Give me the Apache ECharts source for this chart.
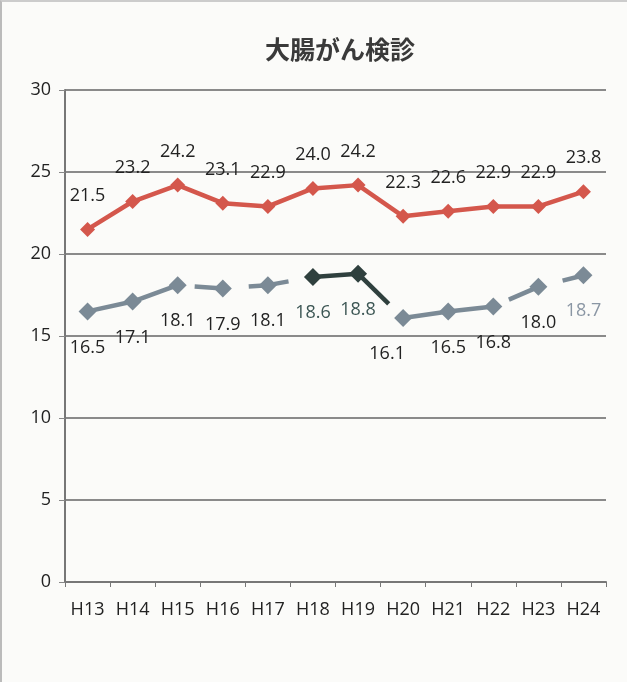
<!DOCTYPE html>
<html><head><meta charset="utf-8">
<script src="https://cdn.jsdelivr.net/npm/echarts@6/dist/echarts.min.js"></script>
<style>html,body{margin:0;padding:0;background:#fbfbf9;}#c{width:627px;height:682px;box-sizing:border-box;border-left:2px solid #bbb;border-top:2px solid #ccc;}</style>
</head><body><div id="c"></div>
<script>
const title = "大腸がん検診";
const categories = ["H13","H14","H15","H16","H17","H18","H19","H20","H21","H22","H23","H24"];
const seriesRed = [21.5,23.2,24.2,23.1,22.9,24.0,24.2,22.3,22.6,22.9,22.9,23.8];
const seriesGrey = [16.5,17.1,18.1,17.9,18.1,18.6,18.8,16.1,16.5,16.8,18.0,18.7];
const yTicks = [0,5,10,15,20,25,30];

const RED = '#d4574c', GREY = '#7b8a96', DARK = '#2f403e';
// indices drawn in dark colour
const darkIdx = [5,6];
// segment styles for the grey line (from index i to i+1)
const segStyles = [
  {c: GREY, t: 'solid'},
  {c: GREY, t: 'solid'},
  {c: GREY, t: [29,17], o: 29},
  {c: GREY, t: [19,26], o: 19},
  {c: GREY, t: [21,100]},
  {c: DARK, t: 'solid'},
  {c: DARK, t: [43,100]},
  {c: GREY, t: 'solid'},
  {c: GREY, t: 'solid'},
  {c: GREY, t: [29,17], o: 29},
  {c: GREY, t: [20,25], o: 20}
];
const labelColors = seriesGrey.map((v,i)=> darkIdx.includes(i) ? '#3c5654' : (i===11 ? '#8a96a4' : '#222'));

const chart = echarts.init(document.getElementById('c'));
const series = [];
segStyles.forEach((s,i)=>{
  series.push({
    type:'line', silent:true, symbol:'none', z:2,
    data: seriesGrey.map((v,j)=> (j===i||j===i+1)? v : null),
    lineStyle:{color:s.c, width:4.5, type:s.t, dashOffset:s.o||0, cap:'butt'},
    label:{show:false}
  });
});
series.push({
  type:'line', z:3, symbol:'diamond', symbolSize:18,
  data: seriesGrey.map((v,i)=>({value:v, itemStyle:{color: darkIdx.includes(i)?DARK:GREY},
      label:{color:labelColors[i], offset: i===7?[-16,0]:[0,0]}})),
  lineStyle:{width:0, opacity:0},
  label:{show:true, position:'bottom', distance:18, fontSize:18, fontFamily:'Open Sans', formatter: p=>p.value.toFixed(1)}
});
series.push({
  type:'line', z:4, symbol:'diamond', symbolSize:15,
  data: seriesRed,
  itemStyle:{color:RED},
  lineStyle:{color:RED, width:4.5},
  label:{show:true, position:'top', distance:17, fontSize:18, color:'#222', fontFamily:'Open Sans', formatter: p=>p.value.toFixed(1)}
});

chart.setOption({
  animation:false,
  backgroundColor:'#fbfbf9',
  title:{text:title, left:333, textAlign:'center', top:30, textStyle:{fontSize:25, fontWeight:'bold', color:'#3a3a3a', fontFamily:'Noto Sans CJK JP'}},
  grid:{left:63, right:21, top:88, bottom:100},
  xAxis:{type:'category', data:categories, boundaryGap:true,
    axisLine:{lineStyle:{color:'#777', width:2}},
    axisTick:{show:true, length:5, lineStyle:{color:'#777'}},
    axisLabel:{fontSize:18, color:'#222', fontFamily:'Open Sans', margin:19}},
  yAxis:{type:'value', min:yTicks[0], max:yTicks[yTicks.length-1], interval:5,
    axisLine:{show:true, lineStyle:{color:'#777', width:2}},
    axisTick:{show:true, length:6, lineStyle:{color:'#888'}},
    splitLine:{lineStyle:{color:'#8a8a8a', width:2}},
    axisLabel:{fontSize:18, color:'#222', fontFamily:'Open Sans', margin:14}},
  series
});
</script></body></html>
